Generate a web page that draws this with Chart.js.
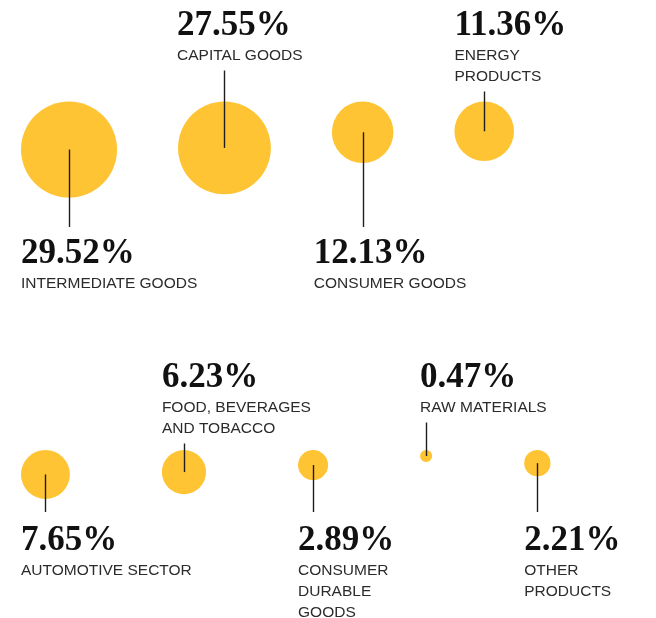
<!DOCTYPE html>
<html>
<head>
<meta charset="utf-8">
<script src="https://cdn.jsdelivr.net/npm/chart.js@4"></script>
<style>
  html, body { margin: 0; padding: 0; background: #fff; }
  #wrap { width: 656px; height: 618px; position: relative; }
</style>
</head>
<body>
<div id="wrap"><canvas id="c" width="656" height="618"></canvas></div>
<script>
// ---- data ----
const categories = [
  "INTERMEDIATE GOODS", "CAPITAL GOODS", "CONSUMER GOODS", "ENERGY\nPRODUCTS",
  "AUTOMOTIVE SECTOR", "FOOD, BEVERAGES\nAND TOBACCO", "CONSUMER\nDURABLE\nGOODS",
  "RAW MATERIALS", "OTHER\nPRODUCTS"
];
const shares = [29.52, 27.55, 12.13, 11.36, 7.65, 6.23, 2.89, 0.47, 2.21];
const rowOf = [0, 0, 0, 0, 1, 1, 1, 1, 1];
const labelSide = ["below", "above", "below", "above", "below", "above", "below", "above", "below"];

// ---- layout (pixel units on the hidden linear scales) ----
const radiusPerSqrt = 8.84;
const rows = [
  { left: 21, top: 101.5, gap: 61, abovePct: 35, belowLineEnd: 227, belowPct: 263 },
  { left: 21, top: 450, gap: 92, abovePct: 387, belowLineEnd: 512, belowPct: 550 }
];
const labelDx = [0, -1, -18, 0, 0, 0, 0, 0, 0];

const radii = shares.map(v => radiusPerSqrt * Math.sqrt(v));
const cursor = rows.map(r => r.left);
const points = shares.map((v, i) => {
  const row = rows[rowOf[i]];
  const r = radii[i];
  const cx = cursor[rowOf[i]] + r;
  cursor[rowOf[i]] = cx + r + row.gap;
  return { x: cx, y: row.top + r, r: r };
});

const YELLOW = "#FEC433";
const PCT_FONT = "bold 35px 'Liberation Serif', 'Times New Roman', serif";
const LBL_FONT = "15.5px 'Liberation Sans', Arial, sans-serif";
const PCT_TO_LABEL = 24.5;
const LINE_GAP = 21;

const labelPlugin = {
  id: "bubbleLabels",
  afterDatasetsDraw(chart) {
    const ctx = chart.ctx;
    const xs = chart.scales.x, ys = chart.scales.y;
    ctx.save();
    points.forEach((p, i) => {
      const row = rows[rowOf[i]];
      const cx = xs.getPixelForValue(p.x);
      const cy = ys.getPixelForValue(p.y);
      const tx = xs.getPixelForValue(p.x - p.r + labelDx[i]);
      const lines = categories[i].split("\n");
      let pctBase, lineA, lineB;
      if (labelSide[i] === "above") {
        pctBase = ys.getPixelForValue(row.abovePct);
        const lastBase = pctBase + PCT_TO_LABEL + (lines.length - 1) * LINE_GAP;
        lineA = lastBase + 11;
        lineB = cy;
      } else {
        pctBase = ys.getPixelForValue(row.belowPct);
        lineA = cy;
        lineB = ys.getPixelForValue(row.belowLineEnd);
      }
      // leader line
      ctx.strokeStyle = "#1e1e1e";
      ctx.lineWidth = 1.4;
      ctx.beginPath();
      ctx.moveTo(Math.round(cx) + 0.5, lineA);
      ctx.lineTo(Math.round(cx) + 0.5, lineB);
      ctx.stroke();
      // percentage
      ctx.fillStyle = "#111";
      ctx.textAlign = "left";
      ctx.textBaseline = "alphabetic";
      ctx.font = PCT_FONT;
      ctx.fillText(shares[i].toFixed(2) + "%", tx, pctBase);
      // category label
      ctx.font = LBL_FONT;
      ctx.fillStyle = "#2b2b2b";
      lines.forEach((ln, k) => {
        ctx.fillText(ln, tx, pctBase + PCT_TO_LABEL + k * LINE_GAP);
      });
    });
    ctx.restore();
  }
};

new Chart(document.getElementById("c"), {
  type: "bubble",
  data: {
    labels: categories,
    datasets: [{
      data: points,
      backgroundColor: YELLOW,
      borderWidth: 0,
      hoverBorderWidth: 0,
      hoverRadius: 0,
      clip: false
    }]
  },
  options: {
    responsive: false,
    animation: false,
    events: [],
    layout: { padding: 0, autoPadding: false },
    plugins: { legend: { display: false }, tooltip: { enabled: false } },
    scales: {
      x: { type: "linear", min: 0, max: 656, display: false },
      y: { type: "linear", min: 0, max: 618, reverse: true, display: false }
    }
  },
  plugins: [labelPlugin]
});
</script>
</body>
</html>
